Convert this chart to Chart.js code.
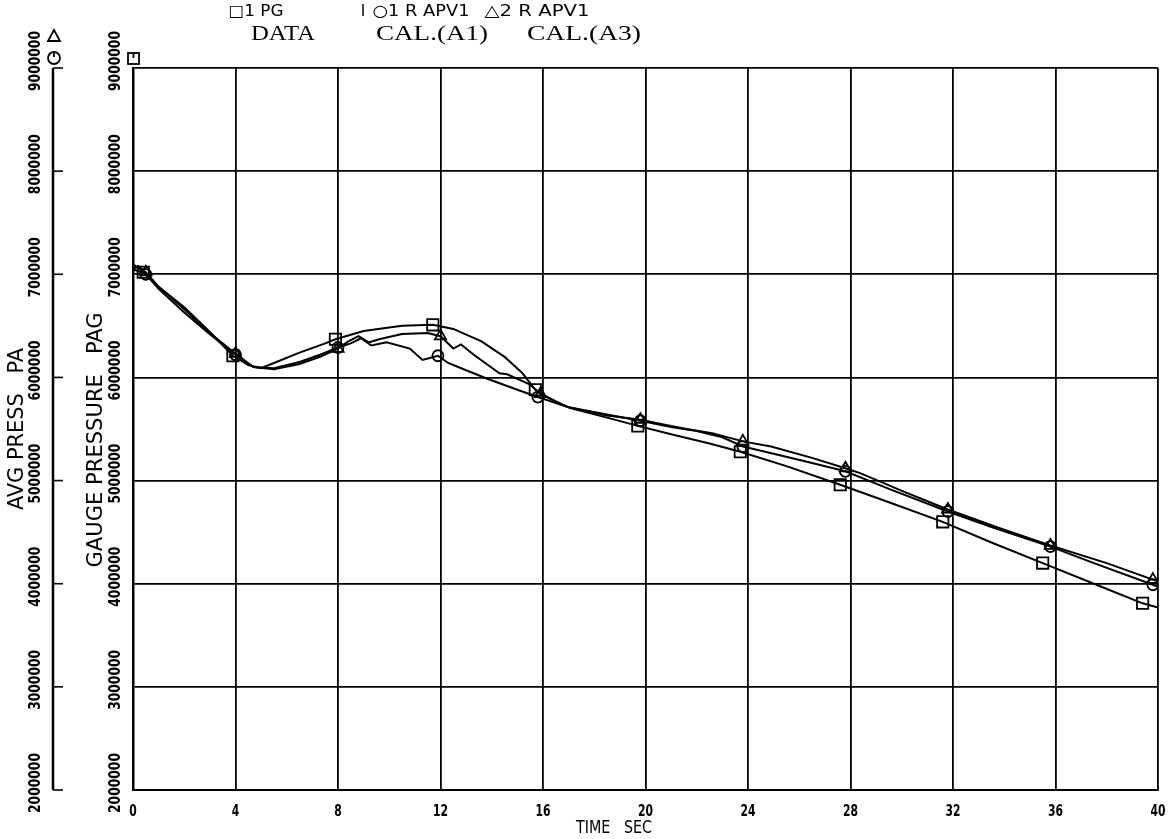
<!DOCTYPE html>
<html><head><meta charset="utf-8">
<script src="https://cdn.jsdelivr.net/npm/chart.js@4"></script>
<style>html,body{margin:0;padding:0;background:#fff}#wrap{width:1171px;height:839px;position:relative}canvas{display:block}</style>
</head><body><div id="wrap"><canvas id="c" width="1171" height="839"></canvas></div>
<script>
// ---- tick labels / categories ----
const timeTicks = [0, 4, 8, 12, 16, 20, 24, 28, 32, 36, 40];
const pressureTicks = [2000000, 3000000, 4000000, 5000000, 6000000, 7000000, 8000000, 9000000];
const seriesNames = ['1 PG', '1 R APV1', '2 R APV1'];
const seriesCaptions = ['DATA', 'CAL.(A1)', 'CAL.(A3)'];
const xTitle = 'TIME   SEC';
const yTitle = 'GAUGE PRESSURE   PAG';
const y2Title = 'AVG PRESS   PA';

// ---- series 1: measured gauge pressure (DATA, squares) ----
const pgTime  = [0, 0.4, 1, 2, 3, 3.9, 4.5, 5, 5.5, 6.5, 7.5, 7.9, 9, 10.5, 11.7, 12.5, 13.6, 14.5, 15.2, 15.7, 16.5, 17.1, 18.5, 19.7, 21, 22.5, 23.7, 25.5, 27.6, 29.5, 31.6, 33.5, 35.5, 37.5, 39.4, 40];
const pgPress = [7100000, 7020000, 6880000, 6680000, 6440000, 6210000, 6120000, 6090000, 6140000, 6240000, 6330000, 6370000, 6450000, 6500000, 6510000, 6470000, 6350000, 6200000, 6040000, 5880000, 5760000, 5700000, 5610000, 5530000, 5450000, 5360000, 5280000, 5140000, 4960000, 4790000, 4600000, 4400000, 4200000, 4000000, 3810000, 3770000];
const pgMarks = [0.4, 3.9, 7.9, 11.7, 15.7, 19.7, 23.7, 27.6, 31.6, 35.5, 39.4];

// ---- series 2: calculated avg pressure A1 (circles) ----
const a1Time  = [0, 0.5, 1, 2, 3, 4, 4.7, 5.5, 6.5, 7.3, 8, 8.5, 8.9, 9.3, 9.9, 10.8, 11.3, 11.9, 12.3, 13, 13.8, 15, 15.8, 17, 18.5, 19.8, 21, 22, 23, 23.8, 25, 26.5, 27.8, 29.5, 31.8, 33.5, 35.8, 37.5, 39.8, 40];
const a1Press = [7050000, 7000000, 6860000, 6630000, 6420000, 6220000, 6100000, 6090000, 6150000, 6220000, 6290000, 6330000, 6380000, 6310000, 6340000, 6280000, 6170000, 6210000, 6140000, 6070000, 5990000, 5880000, 5810000, 5710000, 5640000, 5580000, 5520000, 5480000, 5420000, 5330000, 5260000, 5170000, 5090000, 4920000, 4700000, 4550000, 4360000, 4200000, 3990000, 3970000];
const a1Marks = [0.5, 4, 8, 11.9, 15.8, 19.8, 23.8, 27.8, 31.8, 35.8, 39.8];

// ---- series 3: calculated avg pressure A3 (triangles) ----
const a3Time  = [0, 0.2, 0.5, 1, 2, 3, 4, 4.7, 5.5, 6.5, 7.3, 8, 8.4, 8.8, 9.2, 9.6, 10.5, 11.5, 12, 12.5, 12.8, 13.3, 14.3, 14.6, 15.5, 15.9, 17, 18.5, 19.8, 20.8, 21.6, 22.6, 23.8, 24.9, 26.5, 27.8, 28.4, 30.1, 31.8, 33.8, 35.8, 38, 39.8, 40];
const a3Press = [7050000, 7080000, 7020000, 6880000, 6660000, 6430000, 6230000, 6100000, 6080000, 6130000, 6200000, 6280000, 6350000, 6400000, 6340000, 6370000, 6420000, 6430000, 6400000, 6280000, 6320000, 6220000, 6040000, 6030000, 5930000, 5840000, 5710000, 5630000, 5590000, 5540000, 5500000, 5460000, 5380000, 5330000, 5220000, 5120000, 5070000, 4890000, 4720000, 4540000, 4370000, 4200000, 4040000, 4020000];
const a3Marks = [0.5, 4, 8, 12, 15.9, 19.8, 23.8, 27.8, 31.8, 35.8, 39.8];

function pts(ts, ps) { return ts.map((t, i) => ({ x: t, y: ps[i] })); }
function radiusFor(marks, r) { return ctx => (ctx.raw && marks.includes(ctx.raw.x)) ? r : 0; }

const COND = "'DejaVu Sans Condensed', 'DejaVu Sans', sans-serif";

function fitText(ctx, text, cx, cy, width, font, rot) {
  ctx.save();
  ctx.font = font;
  ctx.textAlign = 'center';
  ctx.textBaseline = 'middle';
  ctx.translate(cx, cy);
  if (rot) ctx.rotate(rot);
  const w = ctx.measureText(text).width;
  if (width) ctx.scale(width / w, 1);
  ctx.fillStyle = '#000';
  ctx.fillText(text, 0, 0);
  ctx.restore();
}

const decor = {
  id: 'decor',
  afterDraw(chart) {
    const ctx = chart.ctx;
    const xs = chart.scales.x, ys = chart.scales.y;
    const top = ys.getPixelForValue(9000000), bot = ys.getPixelForValue(2000000);
    // AVG PRESS axis (same range)
    const ax = 53;
    ctx.save();
    ctx.strokeStyle = '#000';
    ctx.lineWidth = 2.5;
    ctx.beginPath(); ctx.moveTo(ax, top); ctx.lineTo(ax, bot); ctx.stroke();
    ctx.lineWidth = 1.6;
    pressureTicks.forEach(v => {
      const y = ys.getPixelForValue(v);
      ctx.beginPath(); ctx.moveTo(ax, y); ctx.lineTo(ax + 10, y); ctx.stroke();
    });
    ctx.restore();
    // y tick labels (both axes)
    pressureTicks.forEach(v => {
      const y = ys.getPixelForValue(v) - 7;
      fitText(ctx, String(v), 36, y, 60, 'bold 15px ' + COND, -Math.PI / 2);
      fitText(ctx, String(v), 116, y, 60, 'bold 15px ' + COND, -Math.PI / 2);
    });
    // x tick labels
    timeTicks.forEach(t => {
      const x = xs.getPixelForValue(t);
      const s = String(t);
      fitText(ctx, s, x, 812, s.length * 7.5, 'bold 16px ' + COND, 0);
    });
    // axis titles
    fitText(ctx, xTitle, 614, 829, 76, '17px ' + COND, 0);
    fitText(ctx, y2Title, 17, 429, 162, '22px ' + COND, -Math.PI / 2);
    fitText(ctx, yTitle, 96, 440, 255, '22px ' + COND, -Math.PI / 2);
    // legend row 1
    fitText(ctx, '\u25A11 ' + seriesNames[0].slice(2), 256, 12, 55, '16px ' + COND, 0);
    fitText(ctx, 'I', 363, 12, 3, 'bold 16px ' + COND, 0);
    fitText(ctx, '\u25CB' + seriesNames[1], 421, 12, 97, '16px ' + COND, 0);
    fitText(ctx, '\u25B3' + seriesNames[2], 537, 12, 105, '16px ' + COND, 0);
    // legend row 2 captions
    fitText(ctx, seriesCaptions[0], 283, 34, 64, "21px 'Liberation Serif', serif", 0);
    fitText(ctx, seriesCaptions[1], 432, 34, 112, "21px 'Liberation Serif', serif", 0);
    fitText(ctx, seriesCaptions[2], 584, 34, 114, "21px 'Liberation Serif', serif", 0);
    // axis-end symbols
    ctx.save();
    ctx.strokeStyle = '#000'; ctx.lineWidth = 1.8;
    ctx.beginPath(); ctx.arc(54, 58, 6, 0, Math.PI * 2); ctx.stroke();
    ctx.beginPath(); ctx.moveTo(54, 52); ctx.lineTo(54, 57); ctx.stroke();
    ctx.beginPath(); ctx.moveTo(54, 30); ctx.lineTo(60, 41); ctx.lineTo(48, 41); ctx.closePath(); ctx.stroke();
    ctx.strokeRect(128, 53, 11, 11);
    ctx.beginPath(); ctx.moveTo(133.5, 53); ctx.lineTo(133.5, 58); ctx.stroke();
    ctx.restore();
  }
};

const common = {
  showLine: true, borderColor: '#000', borderWidth: 2, tension: 0,
  pointBorderColor: '#000', pointBackgroundColor: 'rgba(0,0,0,0)', pointBorderWidth: 1.8,
  pointHoverRadius: 0
};

new Chart(document.getElementById('c'), {
  type: 'scatter',
  data: {
    datasets: [
      Object.assign({ label: seriesNames[0], data: pts(pgTime, pgPress), pointStyle: 'rect', pointRadius: radiusFor(pgMarks, 8) }, common),
      Object.assign({ label: seriesNames[1], data: pts(a1Time, a1Press), pointStyle: 'circle', pointRadius: radiusFor(a1Marks, 5.5) }, common),
      Object.assign({ label: seriesNames[2], data: pts(a3Time, a3Press), pointStyle: 'triangle', pointRadius: radiusFor(a3Marks, 6.5) }, common)
    ]
  },
  options: {
    responsive: false, animation: false, devicePixelRatio: 1,
    layout: { padding: { left: 133, top: 68, right: 13, bottom: 49 } },
    plugins: { legend: { display: false }, tooltip: { enabled: false } },
    scales: {
      x: {
        type: 'linear', min: 0, max: 40,
        ticks: { stepSize: 4, display: false },
        grid: { color: '#000', lineWidth: 1.8, drawTicks: false },
        border: { display: true, color: '#000', width: 2 },
        afterFit: s => { s.height = 0; }
      },
      y: {
        type: 'linear', min: 2000000, max: 9000000,
        ticks: { stepSize: 1000000, display: false },
        grid: { color: '#000', lineWidth: 1.8, drawTicks: false },
        border: { display: true, color: '#000', width: 2.5 },
        afterFit: s => { s.width = 0; }
      }
    }
  },
  plugins: [decor]
});
</script>
</body></html>
